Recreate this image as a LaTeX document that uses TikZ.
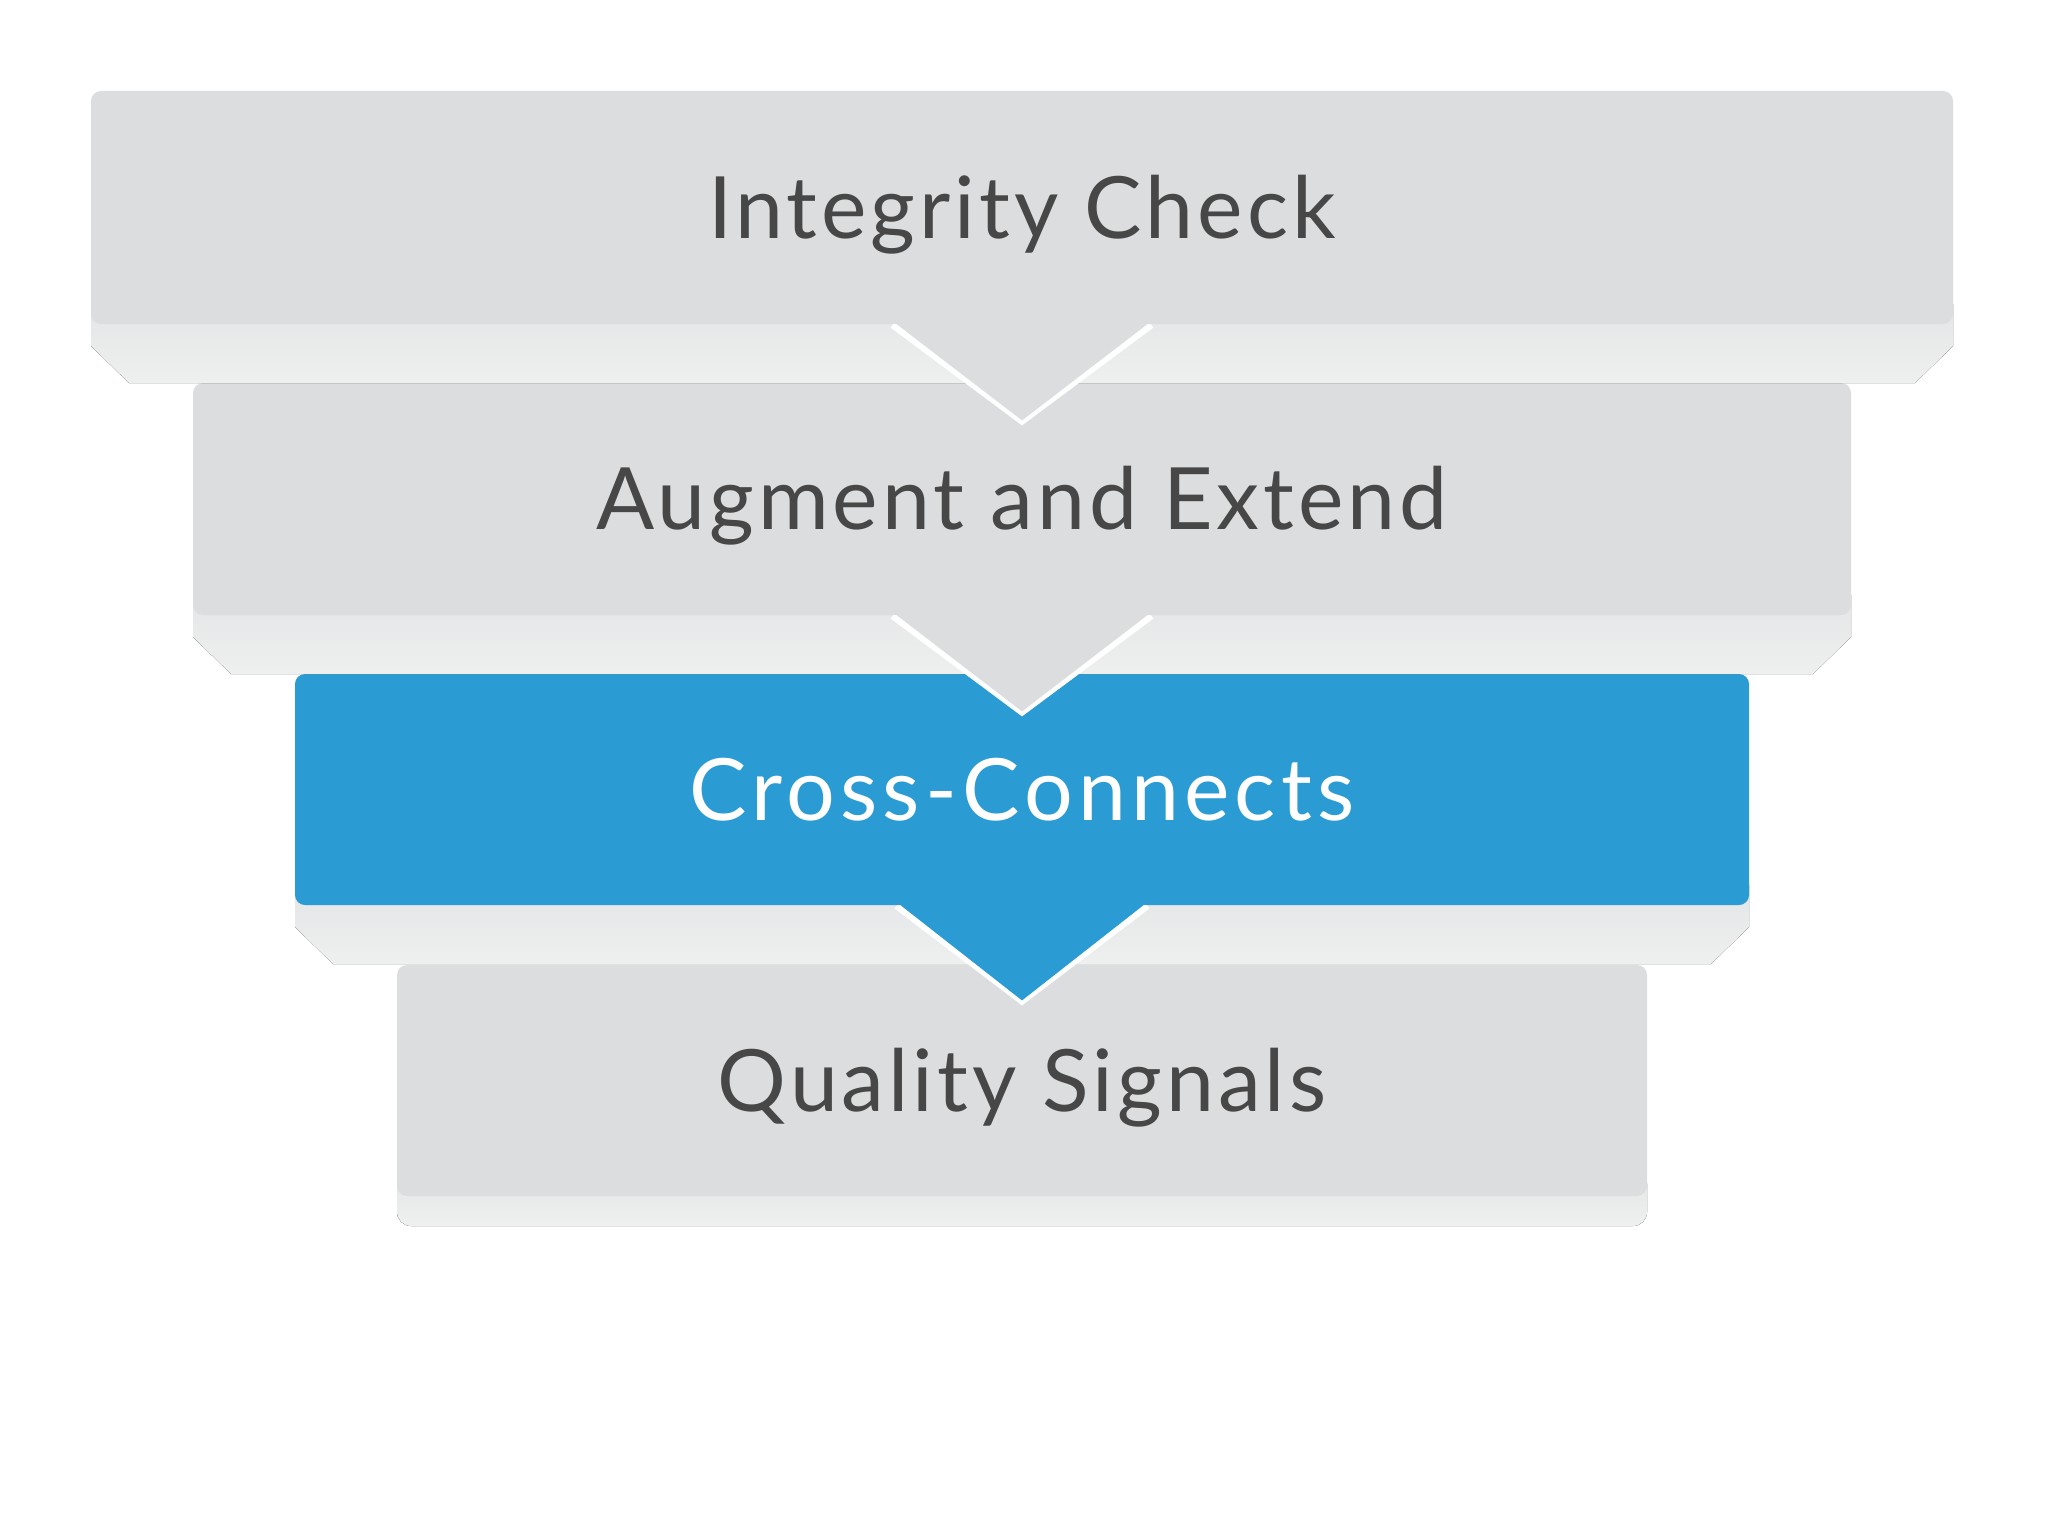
\documentclass[tikz,border=0pt]{standalone}
\usepackage{fontspec}
\setmainfont{Lato}
\newfontfamily\stepfont[LetterSpace=4.6]{Lato}
\newfontfamily\stepfontwide[LetterSpace=6.0]{Lato}
\usetikzlibrary{calc}
\definecolor{boxgray}{HTML}{DCDDDE}
\definecolor{ledgetop}{HTML}{E4E5E6}
\definecolor{ledgebot}{HTML}{EEEFEF}
\definecolor{stepblue}{HTML}{2A9BD3}
\definecolor{txtgray}{HTML}{474747}
\tikzset{
  stepbox/.style={rectangle, rounded corners=5pt, fill=boxgray, text=txtgray,
    inner sep=0pt, text height=30.8pt, text depth=0pt,
    font=\stepfont\fontsize{43}{50}\selectfont},
  activebox/.style={stepbox, fill=stepblue, text=white,
    font=\stepfontwide\fontsize{43}{50}\selectfont},
  ledge/.style={top color=ledgetop, bottom color=ledgebot, draw=none},
  notchline/.style={draw=white, line width=4pt},
}
% #1 left x, #2 right x, #3 bottom y of face
\newcommand\drawledge[3]{%
  \fill[ledge] (#1,#3-20) -- (#1,#3+22) -- (#1+38,#3+59) -- (#2-38,#3+59) -- (#2,#3+22) -- (#2,#3-20) -- cycle;}
% #1 node name, #2 colour, #3 half width, #4 depth
\newcommand\drawnotch[4]{%
  \begin{scope}
    \clip ($(#1.south)+(-400,0)$) rectangle ($(#1.south)+(400,200)$);
    \draw[notchline] ($(#1.south)+(-#3,0)$) -- ($(#1.south)+(0,#4)$) -- ($(#1.south)+(#3,0)$);
  \end{scope}
  \fill[#2] ($(#1.south)+(-#3,-3)$) -- ($(#1.south)+(0,#4)$) -- ($(#1.south)+(#3,-3)$) -- cycle;}
\begin{document}
\begin{tikzpicture}[x=0.5pt,y=-0.5pt]
\useasboundingbox (0,0) rectangle (2048,1536);
\fill[white] (0,0) rectangle (2048,1536);

% ---- box 4 ----
\fill[ledge, rounded corners=7pt] (397,1170) -- (397,1226) -- (1647,1226) -- (1647,1170) -- cycle;
\node[stepbox, minimum width=625pt, minimum height=115.5pt] (b4) at (1022,1080.5) {Quality Signals};

% ---- box 3 ----
\drawledge{295}{1749}{905}
\node[activebox, minimum width=727pt, minimum height=115.5pt] (b3) at (1022,789.5) {Cross-Connects};
\drawnotch{b3}{stepblue}{125}{95}

% ---- box 2 ----
\drawledge{193}{1851}{615}
\node[stepbox, minimum width=829pt, minimum height=116pt] (b2) at (1022,499) {Augment and Extend};
\drawnotch{b2}{boxgray}{129}{96}

% ---- box 1 ----
\drawledge{91}{1953}{324}
\node[stepbox, minimum width=931pt, minimum height=116.5pt] (b1) at (1022,207.5) {Integrity Check};
\drawnotch{b1}{boxgray}{129}{96}
\end{tikzpicture}
\end{document}
